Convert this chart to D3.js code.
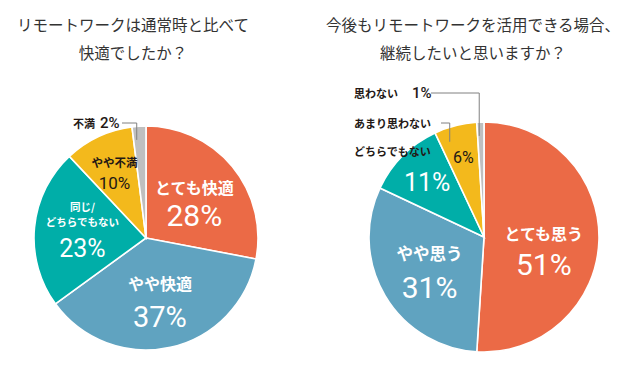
<!DOCTYPE html>
<html>
<head>
<meta charset="utf-8">
<script src="https://cdn.jsdelivr.net/npm/d3@7"></script>
<style>
  body { margin: 0; background: #fff; }
  text { font-family: "Noto Sans CJK JP", sans-serif; }
  .pct { font-family: Roboto, sans-serif; }
</style>
</head>
<body>
<div id="chart"></div>
<script>
// data
const leftTitle = ["リモートワークは通常時と比べて", "快適でしたか？"];
const leftCategories = ["とても快適", "やや快適", "同じ/どちらでもない", "やや不満", "不満"];
const leftValues = [28, 37, 23, 10, 2];

const rightTitle = ["今後もリモートワークを活用できる場合、", "継続したいと思いますか？"];
const rightCategories = ["とても思う", "やや思う", "どちらでもない", "あまり思わない", "思わない"];
const rightValues = [51, 31, 11, 6, 1];

const sliceColors = ["#eb6a46", "#60a3c0", "#00aea8", "#f3b91c", "#bfbfbf"];

const W = 635, H = 368;
const svg = d3.select("#chart").append("svg")
  .attr("width", W)
  .attr("height", H);

// label layout per slice: r = label radius (fraction), name lines + dy (of last line), pct dy / size
const leftLayout = {
  cx: 146, cy: 238, r: 112,
  titleX: 133,
  labels: [
    { r: 0.56, lines: ["とても快適"], nameDy: -11, nameSize: 16, pctDy: 17, pctSize: 30, fill: "#fff" },
    { r: 0.57, lines: ["やや快適"], nameDy: -17, nameSize: 16, pctDy: 17, pctSize: 29, fill: "#fff" },
    { r: 0.57, lines: ["同じ/", "どちらでもない"], nameDy: -11, nameSize: 10.5, lineGap: 15, pctDy: 16, pctSize: 25, fill: "#fff" },
    { r: 0.66, lines: ["やや不満"], nameDy: -9, nameSize: 11.5, pctDy: 12, pctSize: 17, fill: "#231815" },
    null
  ],
  outside: [
    { i: 4, x: 73, y: 123, name: "不満", pctX: 100, lineFrom: 122 }
  ]
};

const rightLayout = {
  cx: 484, cy: 237, r: 115,
  titleX: 473,
  labels: [
    { r: 0.52, lines: ["とても思う"], nameDy: -6, nameSize: 16, pctDy: 26, pctSize: 30, fill: "#fff" },
    { r: 0.55, lines: ["やや思う"], nameDy: -16, nameSize: 16.5, pctDy: 18, pctSize: 30, fill: "#fff" },
    { r: 0.70, lines: [], nameDy: 0, nameSize: 11, pctDy: 2, pctSize: 25, fill: "#fff" },
    { r: 0.72, lines: [], nameDy: 0, nameSize: 11, pctDy: 1, pctSize: 16, fill: "#231815" },
    null
  ],
  outside: [
    { i: 4, x: 354, y: 93, name: "思わない", pctX: 412, lineFrom: 431 },
    { i: 3, x: 354, y: 123, name: "あまり思わない", pctX: null, lineFrom: 441 },
    { i: 2, x: 354, y: 151, name: "どちらでもない", pctX: null, lineFrom: null }
  ]
};

function drawPie(categories, values, title, layout) {
  const g = svg.append("g")
    .attr("transform", `translate(${layout.cx},${layout.cy})`);

  const pie = d3.pie().sort(null).value(d => d)(values);
  const arc = d3.arc().innerRadius(0).outerRadius(layout.r);

  g.selectAll("path.slice")
    .data(pie)
    .join("path")
    .attr("class", "slice")
    .attr("d", arc)
    .attr("fill", (d, i) => sliceColors[i])
    .attr("stroke", "#fff")
    .attr("stroke-width", 1.6);

  // inside labels
  pie.forEach((d, i) => {
    const lab = layout.labels[i];
    if (!lab) return;
    const lr = layout.r * lab.r;
    const [x, y] = d3.arc().innerRadius(lr).outerRadius(lr).centroid(d);
    const gap = lab.lineGap || (lab.nameSize + 1);
    lab.lines.forEach((ln, k) => {
      g.append("text")
        .attr("x", x)
        .attr("y", y + lab.nameDy + (k - (lab.lines.length - 1)) * gap)
        .attr("text-anchor", "middle")
        .attr("dominant-baseline", "central")
        .attr("font-size", lab.nameSize)
        .attr("font-weight", 700)
        .attr("fill", lab.fill)
        .text(ln);
    });
    g.append("text")
      .attr("class", "pct")
      .attr("x", x)
      .attr("y", y + lab.pctDy)
      .attr("text-anchor", "middle")
      .attr("dominant-baseline", "central")
      .attr("font-size", lab.pctSize)
      .attr("fill", lab.fill)
      .text(values[i] + "%");
  });

  // outside labels with leader lines
  layout.outside.forEach(o => {
    svg.append("text")
      .attr("x", o.x)
      .attr("y", o.y)
      .attr("dominant-baseline", "central")
      .attr("font-size", 11)
      .attr("font-weight", 700)
      .attr("fill", "#231815")
      .text(o.name);
    if (o.pctX !== null) {
      svg.append("text")
        .attr("class", "pct")
        .attr("x", o.pctX)
        .attr("y", o.y)
        .attr("dominant-baseline", "central")
        .attr("font-size", 15)
        .attr("font-weight", 500)
        .attr("fill", "#231815")
        .text(values[o.i] + "%");
    }
    if (o.lineFrom !== null) {
      const d = pie[o.i];
      const a = d.startAngle + 0.25 * (d.endAngle - d.startAngle);
      const lr = layout.r * 0.88;
      const px = layout.cx + lr * Math.sin(a);
      const py = layout.cy - lr * Math.cos(a);
      svg.append("path")
        .attr("d", d3.line()([[o.lineFrom, o.y], [px, o.y], [px, py]]))
        .attr("fill", "none")
        .attr("stroke", "#808080")
        .attr("stroke-width", 1);
    }
  });

  // title
  svg.selectAll(null)
    .data(title)
    .join("text")
    .attr("x", layout.titleX)
    .attr("y", (d, i) => 24 + i * 28)
    .attr("text-anchor", "middle")
    .attr("dominant-baseline", "central")
    .attr("font-size", 15.5)
    .attr("fill", "#333")
    .text(d => d);
}

drawPie(leftCategories, leftValues, leftTitle, leftLayout);
drawPie(rightCategories, rightValues, rightTitle, rightLayout);
</script>
</body>
</html>
